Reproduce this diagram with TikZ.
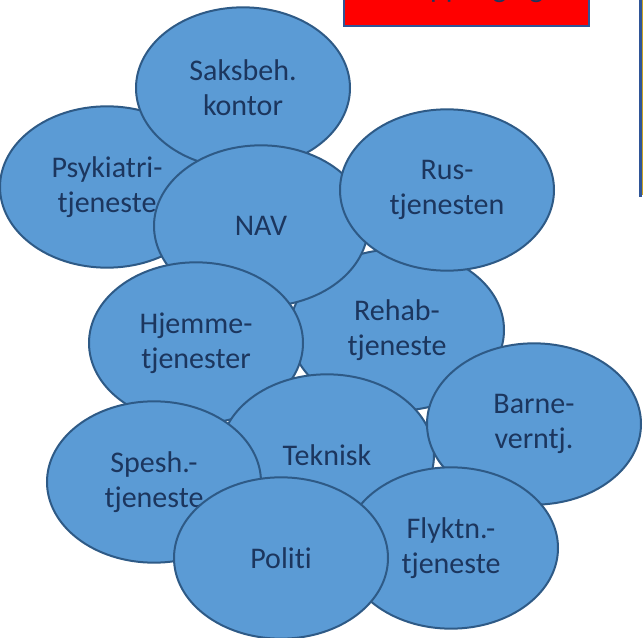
\documentclass[tikz,border=0pt]{standalone}
\usepackage{fontspec}
\setmainfont{Carlito}[Ligatures={NoCommon}]
\usetikzlibrary{shapes.geometric}
\definecolor{bobfill}{HTML}{5B9BD5}
\definecolor{bobline}{HTML}{2E5A86}
\definecolor{bobtext}{HTML}{1C365E}
\definecolor{boxline}{HTML}{2F5597}
\definecolor{goldline}{HTML}{C9A227}
\tikzset{
  boble/.style={ellipse, fill=bobfill, draw=bobline, line width=1.5pt,
    minimum width=160.5pt, minimum height=121pt, inner sep=0pt,
    align=center, text=bobtext, font=\fontsize{22.5}{26.5}\selectfont},
  toppboks/.style={fill=red, draw=boxline, line width=1.5pt},
}
\begin{document}
\begin{tikzpicture}[x=0.75pt, y=-0.75pt]
    \useasboundingbox (0,0) rectangle (643,638);
    \clip (0,0) rectangle (643,638);
    % boks oppe, bare nederste del synes
    \draw[toppboks] (344,-30) rectangle (589,26);
    \node[anchor=base west, inner sep=0pt, text=bobtext,
      font=\fontsize{22.5}{26.5}\selectfont] (oppf) at (414,-2) {oppfølging};
    \fill[boxline] (639,-5) rectangle (641.6,197);
    \fill[goldline] (641.6,-5) rectangle (643,195);
    % boblene, i tegnerekkefolge
    \foreach \n/\x/\y/\t in {
        psyk/107/187/{Psykiatri-\\tjeneste},
        saks/243/88/{Saksbeh.\\kontor},
        rehab/397/330/{Rehab-\\tjeneste},
        nav/261/226/{NAV},
        rus/447/190/{Rus-\\tjenesten},
        hjem/196/343/{Hjemme-\\tjenester},
        tekn/327/455/{Teknisk},
        spes/154/482/{Spesh.-\\tjeneste},
        barn/534/424/{Barne-\\verntj.},
        flykt/451/548/{Flyktn.-\\tjeneste},
        pol/281/558/{Politi}}
        \node[boble] (\n) at (\x,\y) {\t};
\end{tikzpicture}
\end{document}
